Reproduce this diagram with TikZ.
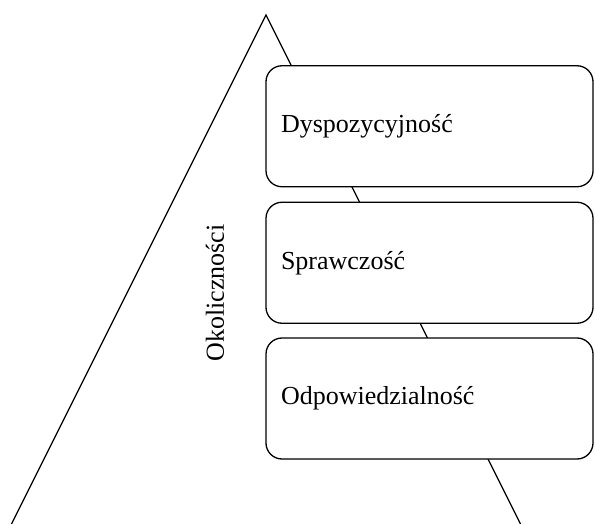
\documentclass[tikz,border=0pt]{standalone}
\usepackage{fontspec}
\setmainfont{Liberation Serif}
\usepackage{tikz}
\tikzstyle{stage}=[rectangle, draw, fill=white, line width=1.3pt, rounded corners=16pt, minimum width=327pt, minimum height=121pt, text width=297pt, inner xsep=15pt, align=left, font=\fontsize{26}{30}\selectfont]
\providecommand{\stage}{\node[stage]}

\begin{document}
\begin{tikzpicture}[x=1pt, y=-1pt]
\useasboundingbox (0,0) rectangle (595,524);
\coordinate (top) at (266,15);
\coordinate (left) at (11.5,524);
\coordinate (right) at (520.5,524);
\draw[line width=1.3pt] (left) -- (top) -- (right);
\node (okol) at (215,293) [rotate=90, font=\fontsize{26}{30}\selectfont] {Okoliczności};
\stage (dysp) at (429.5,126.25) {Dyspozycyjność};
\stage (spraw) at (429.5,262.75) {Sprawczość};
\stage (odpow) at (429.5,398.5) {Odpowiedzialność};
\end{tikzpicture}
\end{document}
